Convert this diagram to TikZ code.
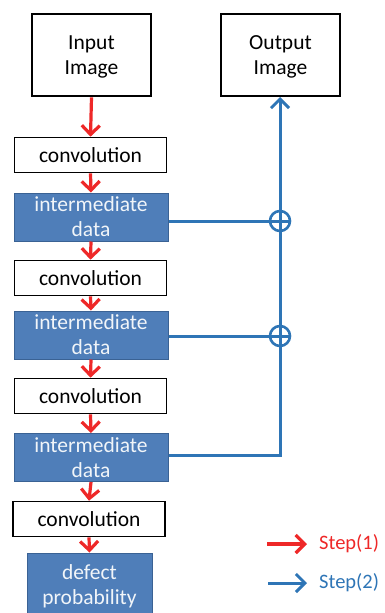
\documentclass[tikz,border=0pt]{standalone}
\usepackage{fontspec}
\setmainfont{Carlito}
\usetikzlibrary{arrows.meta}
\definecolor{flowred}{RGB}{238,40,40}
\definecolor{skipblue}{RGB}{46,117,182}
\definecolor{datafill}{RGB}{79,126,185}
\definecolor{dataedge}{RGB}{58,98,148}
\tikzset{
  lbl/.style={font=\fontsize{21.5}{25}\selectfont, align=center, inner sep=0pt},
  imgbox/.style={lbl, draw=black, line width=2.6pt, minimum width=119pt, minimum height=82pt, fill=white},
  convbox/.style={lbl, draw=black, line width=1.6pt, minimum width=152pt, minimum height=35pt, fill=white},
  databox/.style={lbl, draw=dataedge, line width=1pt, fill=datafill, text=white!92!datafill, minimum width=154pt, minimum height=48pt},
  barb/.tip={Straight Barb[length=9pt,width=18pt]},
  redflow/.style={draw=flowred, line width=3.2pt, -barb},
  blueflow/.style={draw=skipblue, line width=3pt},
  bluearrow/.style={blueflow, -barb},
  sumnode/.style={circle, draw=skipblue, line width=2.6pt, minimum size=20pt, inner sep=0pt, fill=white},
}
\begin{document}
\begin{tikzpicture}[x=1pt,y=-1pt]
\useasboundingbox (0,0) rectangle (385,613);
\clip (0,0) rectangle (385,613);

% left column: network stages
\node[imgbox, text depth=0pt] (in) at (91.5,55) {Input\\Image};
\node[imgbox, text depth=0pt] (out) at (280.5,55) {Output\\Image};
\node[convbox] (c1) at (90.5,155) {convolution};
\node[databox] (d1) at (91,217) {intermediate\\data};
\node[convbox] (c2) at (90.5,278) {convolution};
\node[databox] (d2) at (91,335) {intermediate\\data};
\node[convbox] (c3) at (90.5,396) {convolution};
\node[databox] (d3) at (91,457.5) {intermediate\\data};
\node[convbox] (c4) at (89,519) {convolution};
\node[databox, minimum width=125pt, minimum height=66pt] (p) at (89.5,586) {defect\\probability};

% forward pass (step 1)
\draw[redflow] (in.south) -- (c1.north);
\draw[redflow] (c1.south) -- (d1.north);
\draw[redflow] (d1.south) -- (c2.north);
\draw[redflow] (c2.south) -- (d2.north);
\draw[redflow] (d2.south) -- (c3.north);
\draw[redflow] (c3.south) -- (d3.north);
\draw[redflow] (d3.south) -- (c4.north);
\draw[redflow] (c4.south) -- (p.north);

% skip connections (step 2)
\coordinate (j3) at (280,455);
\coordinate (top) at (280,97);
\node[sumnode] (s1) at (280,221) {};
\node[sumnode] (s2) at (280,336) {};
\draw[blueflow] (d3.east |- j3) -- (j3) -- (s2.south);
\draw[blueflow] (s2.north) -- (s1.south);
\draw[bluearrow] (s1.north) -- (top);
\draw[blueflow] (d1.east |- s1) -- (s1.east);
\draw[blueflow] (d2.east |- s2) -- (s2.east);
\draw[blueflow] (s1.north) -- (s1.south);
\draw[blueflow] (s2.north) -- (s2.south);

% legend
\coordinate (ra) at (267,544);
\coordinate (rb) at (307,544);
\coordinate (ba) at (268,583);
\coordinate (bb) at (307,583);
\draw[redflow] (ra) -- (rb);
\draw[bluearrow] (ba) -- (bb);
\node[lbl, anchor=west, text=flowred, font=\fontsize{20.5}{24}\selectfont] (l1) at (319,544) {Step(1)};
\node[lbl, anchor=west, text=skipblue, font=\fontsize{20.5}{24}\selectfont] (l2) at (319,583) {Step(2)};
\end{tikzpicture}
\end{document}
